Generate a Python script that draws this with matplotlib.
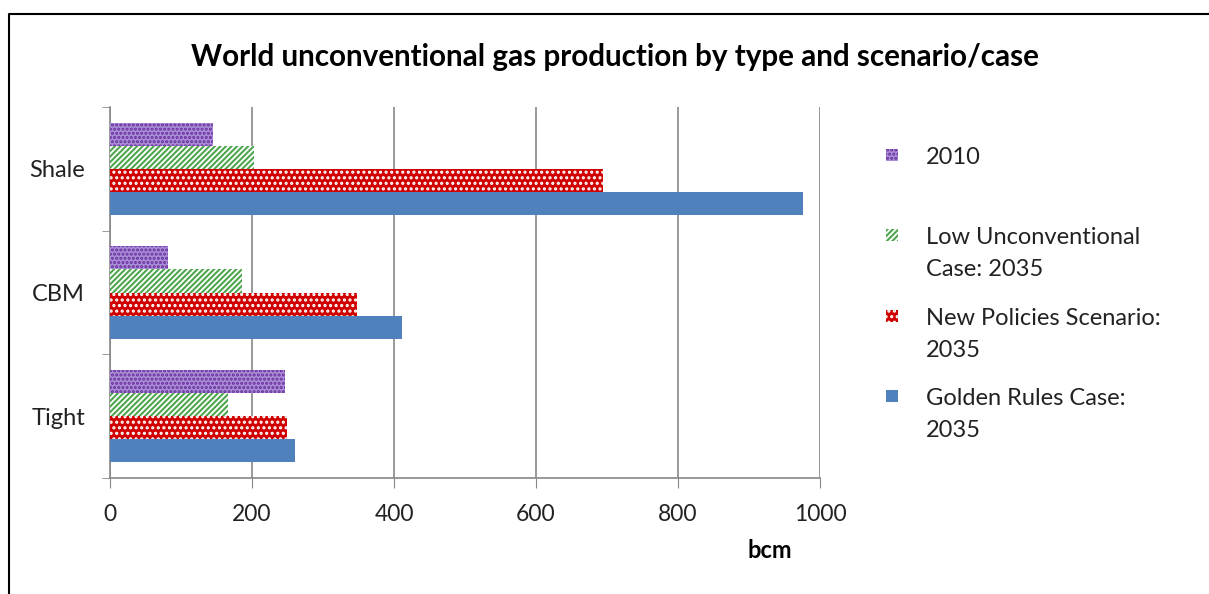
import numpy as np
import matplotlib.pyplot as plt
from matplotlib.patches import Rectangle
from matplotlib.lines import Line2D

plt.rcParams['font.family'] = ['Lato', 'DejaVu Sans']
plt.rcParams['hatch.linewidth'] = 1.5

categories = ['Tight', 'CBM', 'Shale']
series_names = ['2010', 'Low Unconventional\nCase: 2035',
                'New Policies Scenario:\n2035', 'Golden Rules Case:\n2035']
# bcm, order: Tight, CBM, Shale
v2010 = [247, 81, 145]
vLow = [166, 186, 203]
vNPS = [249, 348, 694]
vGolden = [261, 411, 976]
xticks = [0, 200, 400, 600, 800, 1000]

series = [v2010, vLow, vNPS, vGolden]
# face, hatch colour, hatch
styles = [('#A98ED6', '#6A2C9E', '....'),
          ('white', '#4EA64E', '//////'),
          ('#D00000', 'white', '...'),
          ('#4F81BD', '#4F81BD', None)]

fig = plt.figure(figsize=(12.09, 5.94), dpi=100)
ax = fig.add_axes([110/1209, 1-478/594, 710/1209, 371/594])

h = 0.186
y = np.arange(len(categories))
offsets = [1.5, 0.5, -0.5, -1.5]
for vals, off, (fc, hc, hatch) in zip(series, offsets, styles):
    ax.barh(y + off*h, vals, height=h, color=fc, edgecolor=hc, hatch=hatch, linewidth=0, zorder=3)

ax.set_xlim(0, 1000)
ax.set_ylim(-0.5, 2.5)
ax.set_xticks(xticks)
ax.set_xticklabels([str(t) for t in xticks], fontsize=16.5, color='#222222')
ax.set_yticks(y)
ax.set_yticklabels(categories, fontsize=17, color='#222222')
ax.set_yticks([-0.5, 0.5, 1.5, 2.5], minor=True)
ax.tick_params(axis='y', which='major', length=0, pad=18)
ax.tick_params(axis='y', which='minor', length=6, color='#888888')
ax.tick_params(axis='x', length=7, color='#888888', pad=12)
ax.grid(axis='x', color='#888888', linewidth=1.2, zorder=0)
for s in ['top', 'right']:
    ax.spines[s].set_visible(False)
for s in ['left', 'bottom']:
    ax.spines[s].set_color('#888888')
    ax.spines[s].set_linewidth(1.2)

ax.set_xlabel('bcm', fontsize=17, fontweight='bold', x=0.93, labelpad=10)

fig.text(615/1209, 1-57/594, 'World unconventional gas production by type and scenario/case',
         ha='center', va='center', fontsize=21.3, fontweight='bold')

# legend drawn by hand so the key sits beside the first line of each label
rows = [155, 235, 316, 396]
for name, row, (fc, hc, hatch) in zip(series_names, rows, styles):
    fig.patches.append(Rectangle((886/1209, 1-(row+6)/594), 12/1209, 12/594,
                                 transform=fig.transFigure, facecolor=fc, edgecolor=hc,
                                 hatch=hatch, linewidth=0))
    fig.text(926/1209, 1-(row-8)/594, name, ha='left', va='top',
             fontsize=17, color='#222222', linespacing=1.63)

# outer border
fig.add_artist(Line2D([9/1209, 9/1209, 1], [0, 1-14/594, 1-14/594],
                      transform=fig.transFigure, color='black', linewidth=1.5))

fig.savefig('out.png', dpi=100)
